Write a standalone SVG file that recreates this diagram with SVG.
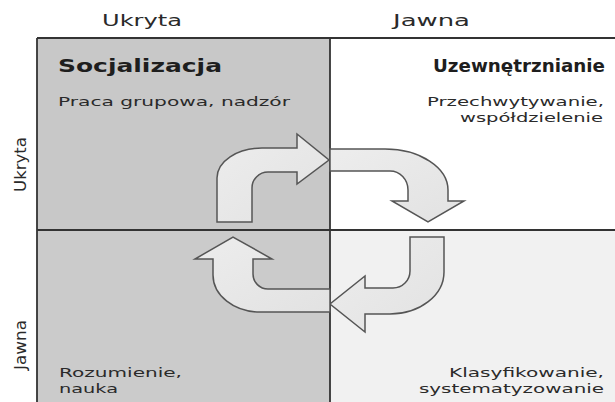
<svg xmlns="http://www.w3.org/2000/svg" width="615" height="402" viewBox="0 0 615 402">
<style>
.t{font-family:"DejaVu Sans","Liberation Sans",sans-serif;fill:#2a2a2a}
.lab{font-size:15px}
.body{font-size:12.5px}
.title{font-size:17px;font-weight:bold;fill:#1e1e1e}
.grid{stroke:#333;stroke-width:1.8;fill:none}
.arrow{fill:url(#ag);stroke:#555;stroke-width:1.5;stroke-linejoin:miter}
</style>
<defs>
<linearGradient id="ag" x1="0" y1="0" x2="1" y2="1">
<stop offset="0" stop-color="#ededed"/>
<stop offset="1" stop-color="#e2e2e2"/>
</linearGradient>
</defs>
<rect x="0" y="0" width="615" height="402" fill="#ffffff"/>
<g id="axis-labels">
<text class="t lab" x="102" y="26" textLength="80" lengthAdjust="spacingAndGlyphs">Ukryta</text>
<text class="t lab" x="393" y="26" textLength="77" lengthAdjust="spacingAndGlyphs">Jawna</text>
<text class="t lab" transform="translate(26,164.5) rotate(-90)" text-anchor="middle" textLength="55" lengthAdjust="spacingAndGlyphs">Ukryta</text>
<text class="t lab" transform="translate(26,345) rotate(-90)" text-anchor="middle" textLength="50" lengthAdjust="spacingAndGlyphs">Jawna</text>
</g>
<g id="socjalizacja">
<rect x="37" y="38" width="293" height="192" fill="#c8c8c8"/>
<text class="t title" x="58" y="72" textLength="164" lengthAdjust="spacingAndGlyphs">Socjalizacja</text>
<text class="t body" x="58" y="106" textLength="232" lengthAdjust="spacingAndGlyphs">Praca grupowa, nadzór</text>
</g>
<g id="uzewnetrznianie">
<rect x="330" y="38" width="285" height="192" fill="#ffffff"/>
<text class="t title" x="433" y="72" textLength="172" lengthAdjust="spacingAndGlyphs">Uzewnętrznianie</text>
<text class="t body" x="427" y="106" textLength="177" lengthAdjust="spacingAndGlyphs">Przechwytywanie,</text>
<text class="t body" x="460" y="122" textLength="143" lengthAdjust="spacingAndGlyphs">współdzielenie</text>
</g>
<g id="rozumienie">
<rect x="37" y="230" width="293" height="172" fill="#cbcbcb"/>
<text class="t body" x="59" y="377" textLength="123" lengthAdjust="spacingAndGlyphs">Rozumienie,</text>
<text class="t body" x="59" y="393" textLength="59" lengthAdjust="spacingAndGlyphs">nauka</text>
</g>
<g id="klasyfikowanie">
<rect x="330" y="230" width="285" height="172" fill="#f1f1f1"/>
<text class="t body" x="449" y="377" textLength="155" lengthAdjust="spacingAndGlyphs">Klasyfikowanie,</text>
<text class="t body" x="419" y="393" textLength="185" lengthAdjust="spacingAndGlyphs">systematyzowanie</text>
</g>
<g id="grid">
<path class="grid" d="M37,38 H615 M37,38 V402 M330,38 V402 M37,230 H615"/>
</g>
<g id="connectors">
<path class="arrow" d="M217,222 L217,178 C217,161.4 236.9,148 262,148 L297,148 L297,134 L329,160 L297,184 L297,172 L268,172 C259.2,172 252,179.2 252,188 L252,222 Z"/>
<path class="arrow" d="M330,149 L385,149 C419.8,149 448,167.4 448,190 L448,201 L464,201 L428,222 L392,201 L408,201 L408,190 C408,179.5 399.9,171 390,171 L330,171 Z"/>
<path class="arrow" d="M410,237 L444,237 L444,272 C444,295.2 420,314 390,314 L365,314 L365,332 L330,304 L365,276 L365,288 L393,288 C402.4,288 410,280.4 410,271 Z"/>
<path class="arrow" d="M330,289 L268,289 C259.7,289 253,282.3 253,274 L253,259 L272,259 L233,237 L195,259 L213,259 L213,275 C213,295.4 234,312 260,312 L330,312 Z"/>
</g>
</svg>
